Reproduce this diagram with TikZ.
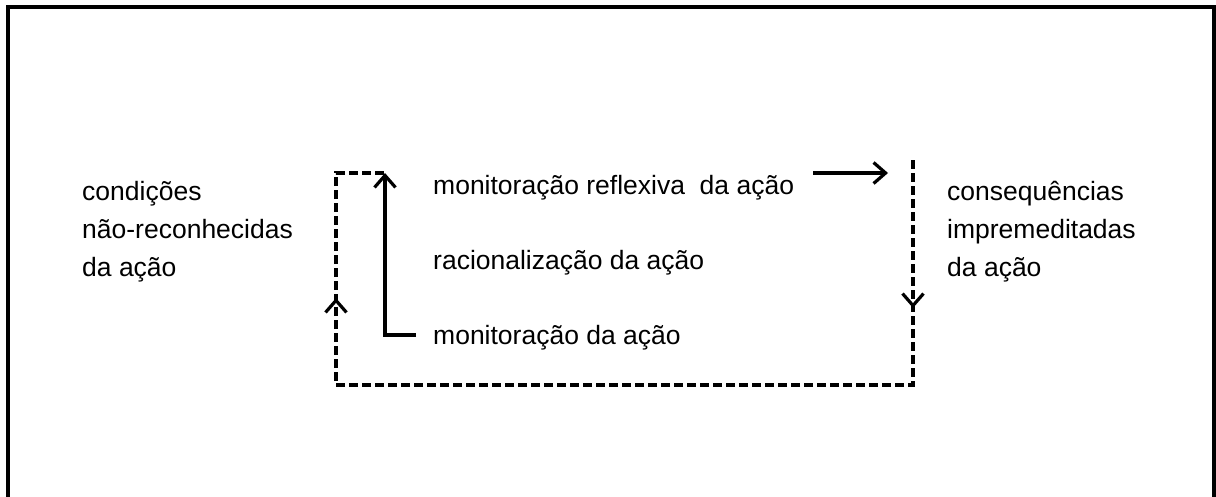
\documentclass[tikz,border=0pt]{standalone}
\usepackage{fontspec}
\setmainfont{Liberation Sans}
\usetikzlibrary{arrows.meta}
\tikzset{
  lbl/.style={inner sep=0pt, anchor=base west, align=left,
    font=\fontsize{26.5}{38}\selectfont},
  solidline/.style={line width=3.2pt},
  dashline/.style={line width=3.2pt, dash pattern=on 9pt off 4pt},
  barb/.style={-{Straight Barb[length=12pt,width=21pt,line width=3.2pt]}},
  frameline/.style={line width=4pt},
}
\begin{document}
\begin{tikzpicture}[x=1pt,y=-1pt]
  \useasboundingbox (0,0) rectangle (1216,496);
  % outer frame (open at the bottom)
  \coordinate (fbl) at (8,500);
  \coordinate (ftl) at (8,7);
  \coordinate (ftr) at (1214,7);
  \coordinate (fbr) at (1214,500);
  \draw[frameline] (fbl) -- (ftl) -- (ftr) -- (fbr);

  % texts (multi-line nodes are placed by the baseline of their last line)
  \node[lbl] (cond) at (82,276) {condições\\não-reconhecidas\\da ação};
  \node[lbl] (cons) at (947,276) {consequências\\impremeditadas\\da ação};
  \node[lbl] (mref) at (433,194) {monitoração reflexiva\ \ da ação};
  \node[lbl] (rac) at (433,269) {racionalização da ação};
  \node[lbl] (mon) at (433,344) {monitoração da ação};

  % corner points of the loops
  \coordinate (dl) at (336,173);
  \coordinate (dlb) at (336,385);
  \coordinate (dlmid) at (336,298);
  \coordinate (dlpre) at (336,299);
  \coordinate (sup) at (385,173);
  \coordinate (sbot) at (385,335);
  \coordinate (send) at (416,335);
  \coordinate (arS) at (813,173);
  \coordinate (arE) at (888,173);
  \coordinate (dr) at (913,160);
  \coordinate (drmid) at (913,308);
  \coordinate (drpre) at (913,307);
  \coordinate (drb) at (913,385);

  % solid loop: monitoring back up to reflexive monitoring
  \draw[solidline, barb] (send) -- (sbot) -- (sup);
  \draw[solidline, barb] (arS) -- (arE);

  % dashed loop: unintended consequences feed back to unacknowledged conditions
  \draw[dashline] (dr) -- (drb) -- (dlb) -- (dl) -- (sup);
  % arrow heads sitting on the dashed loop
  \draw[solidline, barb] (drpre) -- (drmid);
  \draw[solidline, barb] (dlpre) -- (dlmid);
\end{tikzpicture}
\end{document}
